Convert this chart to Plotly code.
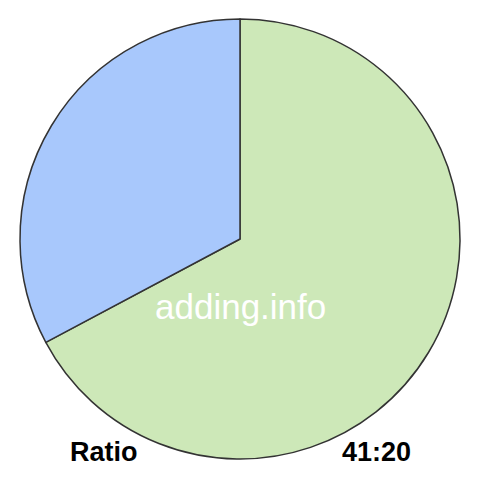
import plotly.graph_objects as go

labels = ["41", "20"]
values = [41, 20]
colors = ["#cde8b8", "#a8c8fc"]

# page has an 8px body margin, so work in page pixels and shift
W = 472
off = 8


def px(x):
    return (x - off) / W


def py(y):
    return 1 - (y - off) / W


fig = go.Figure()
fig.add_trace(go.Pie(labels=labels, values=values, sort=False, direction="clockwise",
                     rotation=0, textinfo="none", hoverinfo="label+value",
                     marker=dict(colors=colors, line=dict(color="#333333", width=1.5)),
                     domain=dict(x=[px(19), px(461)], y=[py(459), py(19)])))

fig.add_annotation(x=px(240), y=py(306), xref="paper", yref="paper", text="adding.info",
                   xanchor="center", yanchor="middle", showarrow=False,
                   font=dict(family="Liberation Sans, Arial", size=35, color="white"))
fig.add_annotation(x=px(104), y=py(452), xref="paper", yref="paper", text="<b>Ratio</b>",
                   xanchor="center", yanchor="middle", showarrow=False,
                   font=dict(family="Liberation Sans, Arial", size=27, color="black"))
fig.add_annotation(x=px(376), y=py(452), xref="paper", yref="paper", text="<b>41:20</b>",
                   xanchor="center", yanchor="middle", showarrow=False,
                   font=dict(family="Liberation Sans, Arial", size=27, color="black"))

fig.update_layout(width=W, height=W, margin=dict(l=0, r=0, t=0, b=0),
                  showlegend=False, paper_bgcolor="white", plot_bgcolor="white")
fig.write_html("out.html")
